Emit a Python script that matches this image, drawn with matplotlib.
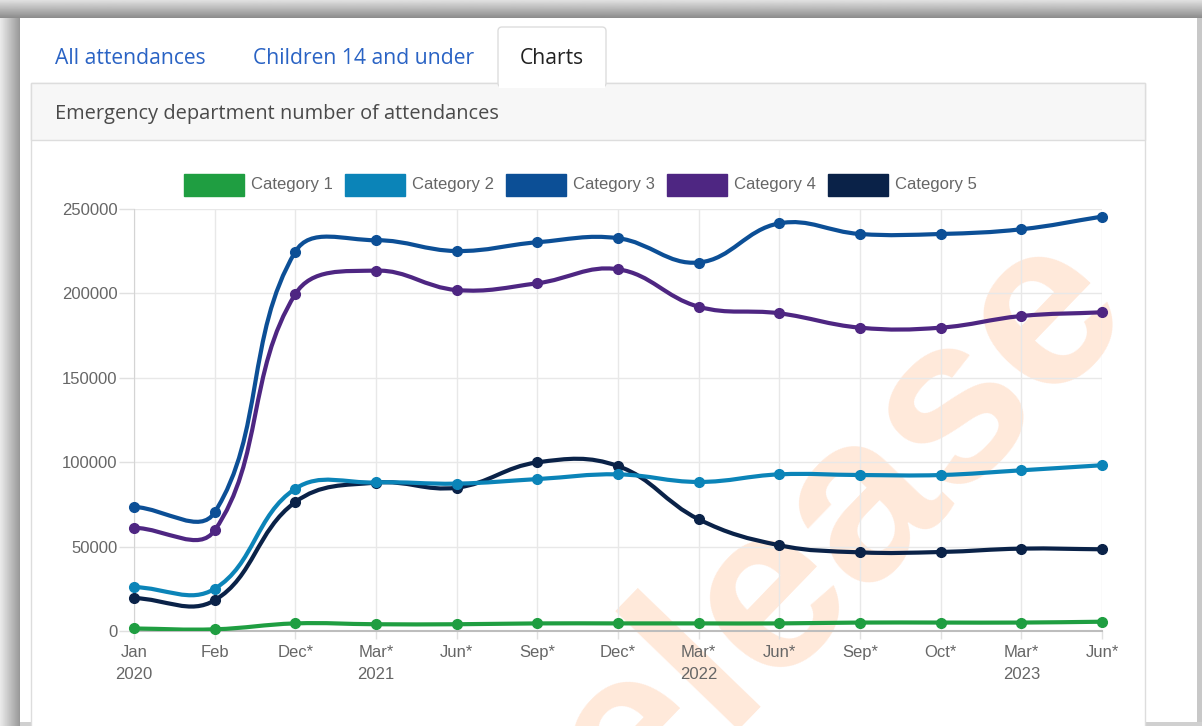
import numpy as np
import matplotlib
matplotlib.use("Agg")
import matplotlib.pyplot as plt
from matplotlib.path import Path
from matplotlib.patches import PathPatch, Rectangle, FancyBboxPatch

# 数据
months = ["Jan", "Feb", "Dec*", "Mar*", "Jun*", "Sep*", "Dec*", "Mar*", "Jun*", "Sep*", "Oct*", "Mar*", "Jun*"]
years = ["2020", "", "", "2021", "", "", "", "2022", "", "", "", "2023", ""]

series_names = ["Category 1", "Category 2", "Category 3", "Category 4", "Category 5"]
cat1 = [1500, 1000, 4500, 4000, 4000, 4500, 4500, 4500, 4500, 5000, 5000, 5000, 5500]
cat2 = [26000, 25000, 84300, 88000, 87300, 90000, 92800, 88300, 92800, 92400, 92400, 95200, 98200]
cat3 = [73600, 70300, 224700, 231500, 225100, 230300, 232700, 218300, 241500, 235200, 235200, 238000, 245500]
cat4 = [61200, 59600, 199600, 213500, 202000, 206000, 214300, 192100, 188200, 179700, 179700, 186600, 188800]
cat5 = [19500, 18200, 76400, 87900, 84900, 99900, 97700, 66200, 50800, 46600, 46800, 48800, 48400]
series_values = [cat1, cat2, cat3, cat4, cat5]
series_colors = ["#1f9e41", "#0b84b8", "#0c4f96", "#4e2682", "#0a2248"]

W, H = 1202, 726
fig = plt.figure(figsize=(W / 100, H / 100), dpi=100)
fig.patch.set_facecolor("white")


def rect(x, y, w, h):
    # 像素坐标 -> figure 坐标
    return [x / W, 1 - (y + h) / H, w / W, h / H]


# 背景层（页面、标签页、面板）
bg = fig.add_axes([0, 0, 1, 1], zorder=-10)
bg.axis("off")

top_grad = np.linspace(0.88, 0.55, 30).reshape(-1, 1)
bg.imshow(top_grad, cmap="gray", vmin=0, vmax=1, extent=[0, W, 18, 0], aspect="auto")
left_grad = np.linspace(0.92, 0.6, 30).reshape(1, -1)
bg.imshow(left_grad, cmap="gray", vmin=0, vmax=1, extent=[0, 20, H, 18], aspect="auto")
bg.add_patch(Rectangle((1197, 18), 5, H - 18, color="#c8c8c8", lw=0))
bg.add_patch(Rectangle((20, 722), W - 20, 4, color="#d0d0d0", lw=0))
bg.set_xlim(0, W)
bg.set_ylim(H, 0)

# 面板
bg.add_patch(Rectangle((31, 83), 1114, 700, facecolor="white", edgecolor="#dddddd", lw=1))
bg.add_patch(Rectangle((31, 83), 1114, 57, facecolor="#f7f7f7", edgecolor="#dddddd", lw=1))
# Charts 标签
bg.add_patch(FancyBboxPatch((498, 27), 108, 60, boxstyle="round,pad=0,rounding_size=4",
                            facecolor="white", edgecolor="#dddddd", lw=1))
bg.add_patch(Rectangle((499, 82), 106, 6, facecolor="white", lw=0))

tab_font = ["Open Sans", "DejaVu Sans"]
bg.text(55, 58, "All attendances", fontsize=15.2, color="#2a63c4", va="center", ha="left", family=tab_font)
bg.text(253, 58, "Children 14 and under", fontsize=15.2, color="#2a63c4", va="center", ha="left", family=tab_font)
bg.text(552, 58, "Charts", fontsize=15.2, color="#222222", va="center", ha="center", family=tab_font)
bg.text(55, 114, "Emergency department number of attendances", fontsize=14.4, color="#4a4a4a",
        va="center", ha="left", family=tab_font)

# 图例
for k, (name, color) in enumerate(zip(series_names, series_colors)):
    x0 = 184 + k * 161
    bg.add_patch(Rectangle((x0, 174), 60, 22, facecolor=color, edgecolor=color, lw=1))
    bg.text(x0 + 67, 185, name, fontsize=12, color="#666666", va="center", ha="left",
            family="Liberation Sans")

# 水印
fig.text(1133 / W, 1 - 305 / H, "release", rotation=46, rotation_mode="anchor",
         ha="right", va="baseline", fontsize=170, weight="bold", color="#ff6a00",
         alpha=0.15, family="Liberation Sans", zorder=-1)

# 主图
ax = fig.add_axes(rect(134, 209, 968, 422), zorder=0)
ax.set_facecolor("none")
x = np.arange(len(months))
ax.set_xlim(0, len(months) - 1)
ax.set_ylim(0, 250000)
ax.set_yticks(np.arange(0, 250001, 50000))
ax.set_xticks(x)
ax.set_xticklabels([m + "\n" + (y if y else " ") for m, y in zip(months, years)], linespacing=1.6)
ax.grid(True, color="#e8e8e8", lw=1)
ax.set_axisbelow(True)
for s in ["top", "right"]:
    ax.spines[s].set_visible(False)
ax.spines["left"].set_color("#d4d4d4")
ax.spines["bottom"].set_color("#bdbdbd")
ax.spines["bottom"].set_linewidth(1.5)
ax.tick_params(axis="y", length=11, width=1, color="#e0e0e0", pad=1, labelsize=12, labelcolor="#666666")
ax.tick_params(axis="x", length=6, width=1, color="#e0e0e0", pad=4, labelsize=12, labelcolor="#666666")
for lab in ax.get_xticklabels() + ax.get_yticklabels():
    lab.set_family("Liberation Sans")


def spline_path(xs, ys, tension=0.4):
    # Chart.js 默认的曲线插值（在像素空间计算控制点）
    pts = ax.transData.transform(np.column_stack([xs, ys]))
    n = len(pts)
    cp_prev = np.zeros_like(pts)
    cp_next = np.zeros_like(pts)
    for i in range(n):
        prev = pts[max(i - 1, 0)]
        cur = pts[i]
        nxt = pts[min(i + 1, n - 1)]
        d01 = np.hypot(*(cur - prev))
        d12 = np.hypot(*(nxt - cur))
        tot = d01 + d12
        s01 = d01 / tot if tot else 0
        s12 = d12 / tot if tot else 0
        cp_prev[i] = cur - tension * s01 * (nxt - prev)
        cp_next[i] = cur + tension * s12 * (nxt - prev)
    verts = [pts[0]]
    codes = [Path.MOVETO]
    for i in range(n - 1):
        verts += [cp_next[i], cp_prev[i + 1], pts[i + 1]]
        codes += [Path.CURVE4] * 3
    verts = ax.transData.inverted().transform(np.array(verts))
    return Path(verts, codes)


# 倒序绘制，使 Category 1 在最上层
for k in reversed(range(len(series_values))):
    vals = series_values[k]
    color = series_colors[k]
    ax.add_patch(PathPatch(spline_path(x, vals), facecolor="none", edgecolor=color, lw=3,
                           zorder=3 + (5 - k), capstyle="round", joinstyle="round"))
    ax.plot(x, vals, "o", color=color, markersize=7, zorder=3 + (5 - k), clip_on=False)

fig.savefig("out.png", dpi=100)
